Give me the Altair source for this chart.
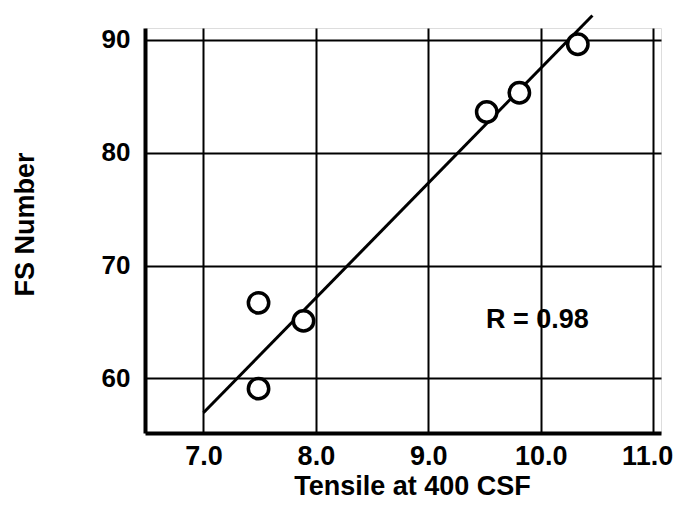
import altair as alt
import pandas as pd

# Data
tensile = [7.49, 7.49, 7.89, 9.52, 9.81, 10.33]
fs_number = [66.7, 59.1, 65.1, 83.6, 85.3, 89.6]

fit_x = [7.0, 10.46]
fit_y = [56.96, 92.15]

x_ticks = [7.0, 8.0, 9.0, 10.0, 11.0]
y_ticks = [60, 70, 80, 90]

r_label = ["R = 0.98"]
r_x = [9.97]
r_y = [64.46]

points = pd.DataFrame({"x": tensile, "y": fs_number})
fit = pd.DataFrame({"x": fit_x, "y": fit_y})
ann = pd.DataFrame({"x": r_x, "y": r_y, "t": r_label})

FONT = "Liberation Sans"

xscale = alt.Scale(domain=[6.48, 11.07], nice=False, zero=False)
yscale = alt.Scale(domain=[55.17, 91.04], nice=False, zero=False)

xaxis = alt.Axis(
    values=x_ticks, format=".1f", title="Tensile at 400 CSF",
    grid=True, gridColor="black", gridWidth=2, gridOpacity=1,
    ticks=False, domainColor="black", domainWidth=4,
    labelFont=FONT, labelFontSize=27, labelFontWeight="bold", labelColor="black",
    labelPadding=10, labelFlush=False,
    labelOffset=alt.expr("datum.value == 11 ? -6 : 0"),
    titleFont=FONT, titleFontSize=27, titleFontWeight="bold", titleColor="black",
    titleX=267, titleY=61, titleBaseline="alphabetic", titleAnchor="middle",
)
yaxis = alt.Axis(
    values=y_ticks, format="d", title="FS Number",
    grid=True, gridColor="black", gridWidth=2, gridOpacity=1,
    ticks=False, domainColor="black", domainWidth=4,
    labelFont=FONT, labelFontSize=26, labelFontWeight="bold", labelColor="black",
    labelPadding=15, labelFlush=False,
    titleFont=FONT, titleFontSize=27, titleFontWeight="bold", titleColor="black",
    titleX=-112, titleY=196, titleBaseline="alphabetic", titleAngle=270, titleAnchor="middle",
)

base_grid = alt.Chart(points).mark_point(opacity=0).encode(
    x=alt.X("x:Q", scale=xscale, axis=xaxis),
    y=alt.Y("y:Q", scale=yscale, axis=yaxis),
)

line = alt.Chart(fit).mark_line(color="black", strokeWidth=3, clip=False).encode(
    x=alt.X("x:Q", scale=xscale),
    y=alt.Y("y:Q", scale=yscale),
)

pts = alt.Chart(points).mark_point(
    shape="circle", filled=False, fill="white", fillOpacity=1,
    stroke="black", strokeWidth=3.5, size=415, opacity=1,
).encode(
    x=alt.X("x:Q", scale=xscale),
    y=alt.Y("y:Q", scale=yscale),
)

txt = alt.Chart(ann).mark_text(
    font=FONT, fontSize=27, fontWeight="bold", color="black",
    align="center", baseline="alphabetic",
).encode(
    x=alt.X("x:Q", scale=xscale),
    y=alt.Y("y:Q", scale=yscale),
    text="t:N",
)

chart = alt.layer(base_grid, line, pts, txt).properties(
    width=516, height=405,
    autosize=alt.AutoSizeParams(type="none"),
    padding={"left": 137, "top": 20, "right": 14, "bottom": 67},
).configure_view(stroke=None).configure(background="white")

chart.save("out.html", embed_options={"renderer": "svg", "actions": False})
